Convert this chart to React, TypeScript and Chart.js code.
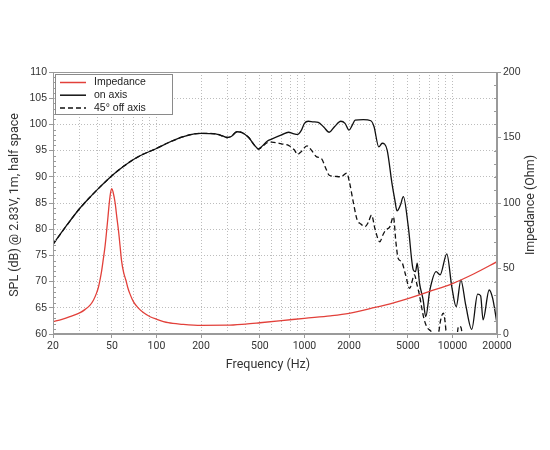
import React, { useEffect, useRef } from 'react';
import { Chart, registerables } from 'chart.js';

Chart.register(...registerables);

// ---------- data ----------
const impedanceFreq = [20, 23, 26, 30.5, 33, 35.6, 37.5, 39.3, 40.5, 41.5, 42.6, 43.6, 45, 46.1, 47.1, 48, 49, 50, 51, 52.6, 54, 55.4, 56.8, 58.1, 60, 62.2, 64, 66, 70, 75.8, 82, 90.6, 100, 120, 150, 200, 300, 400, 500, 700, 1000, 1500, 2000, 3000, 4000, 5000, 7000, 10000, 14000, 20000];
const impedanceOhm = [9.4, 11.2, 13.2, 16.3, 18.8, 22, 25.8, 31, 35.5, 41, 48, 56, 67.5, 79, 90, 100, 108, 111, 108, 100, 89, 79, 67, 56, 47, 41, 35.5, 31, 24.5, 19.6, 16.2, 13.2, 11.3, 8.6, 7.4, 6.6, 6.7, 7.6, 8.6, 10.2, 12, 13.9, 15.8, 20.3, 23.8, 27, 32.5, 38.5, 46, 55.2];

const onAxisFreq = [20, 25, 30, 35, 40, 50, 60, 70, 80, 100, 120, 150, 180, 200, 250, 280, 300, 320, 350, 380, 420, 460, 490, 520, 560, 600, 700, 780, 850, 900, 950, 1000, 1060, 1150, 1240, 1350, 1470, 1600, 1760, 1880, 2000, 2100, 2200, 2500, 2810, 2950, 3180, 3350, 3620, 3900, 4080, 4220, 4450, 4660, 5030, 5440, 5630, 5780, 5990, 6340, 6600, 7040, 7760, 8250, 9160, 9900, 10600, 11400, 12300, 13500, 14800, 15500, 16100, 17700, 18700, 20000];
const onAxisDb = [77.1, 80.9, 83.8, 85.9, 87.6, 90.2, 92.0, 93.3, 94.2, 95.4, 96.5, 97.6, 98.2, 98.3, 98.2, 97.8, 97.5, 97.7, 98.6, 98.4, 97.5, 96.0, 95.3, 95.9, 96.8, 97.2, 98.0, 98.5, 98.2, 98.1, 98.8, 100.2, 100.6, 100.5, 100.4, 99.5, 98.5, 99.6, 100.6, 100.2, 98.9, 99.8, 100.8, 100.9, 100.7, 99.6, 95.7, 96.4, 95.1, 88.8, 85.6, 83.5, 84.6, 86.2, 80.5, 72.2, 71.9, 73.5, 69.7, 66.5, 63.3, 68.4, 71.9, 71.3, 75.3, 69.0, 65.2, 70.3, 65.5, 60.9, 67.6, 67.3, 62.7, 68.4, 66.8, 62.0];

const offAxisFreq = [20, 25, 30, 35, 40, 50, 60, 70, 80, 100, 120, 150, 180, 200, 250, 280, 300, 320, 350, 380, 420, 460, 490, 520, 560, 600, 700, 780, 850, 900, 950, 1040, 1120, 1210, 1300, 1400, 1470, 1600, 1760, 1930, 2020, 2130, 2270, 2400, 2570, 2700, 2840, 3000, 3230, 3400, 3540, 3780, 3990, 4150, 4300, 4540, 4800, 5140, 5540, 5750, 5990, 6370, 6700, 7320, 7700, 8000, 8300, 8680, 8900, 9160, 9600, 10500, 11000, 11400, 11700, 12300];
const offAxisDb = [77.1, 80.9, 83.8, 85.9, 87.6, 90.2, 92.0, 93.3, 94.2, 95.4, 96.5, 97.6, 98.2, 98.3, 98.2, 97.8, 97.5, 97.7, 98.6, 98.4, 97.5, 96.0, 95.3, 95.8, 96.5, 96.6, 96.3, 96.0, 95.2, 94.3, 94.8, 95.9, 95.0, 93.8, 93.5, 91.5, 90.3, 90.1, 90.0, 90.7, 88.8, 85.4, 81.8, 81.0, 80.5, 81.3, 82.7, 80.0, 77.6, 79.0, 79.8, 80.5, 82.4, 77.5, 74.4, 73.8, 71.5, 68.7, 71.3, 69.5, 67.4, 63.3, 61.4, 60.1, 58.0, 59.5, 62.5, 64.0, 62.5, 59.0, 56.0, 57.0, 61.5, 61.3, 59.5, 56.0];

const gridFreqs = [20, 30, 40, 50, 60, 70, 80, 90, 100, 200, 300, 400, 500, 600, 700, 800, 900, 1000, 2000, 3000, 4000, 5000, 6000, 7000, 8000, 9000, 10000, 20000];
const freqLabels = [20, 50, 100, 200, 500, 1000, 2000, 5000, 10000, 20000];
const splRange = [60, 110];
const impRange = [0, 200];

const seriesLabels = ['Impedance', 'on axis', '45° off axis'];
const xTitle = 'Frequency (Hz)';
const yTitle = 'SPL (dB) @ 2.83V, 1m, half space';
const y2Title = 'Impedance (Ohm)';

const RED = '#e2403a';
const TEXT = '#333333';
const AXIS = '#9a9a9a';

const toPoints = (xs: number[], ys: number[]) => xs.map((x, i) => ({ x, y: ys[i] }));

const decorPlugin = {
  id: 'decor',
  afterDatasetsDraw(chart: any) {
    const { ctx, chartArea } = chart;
    const { left, right, top, bottom } = chartArea;
    const yS = chart.scales.y;
    const y2S = chart.scales.y2;
    ctx.save();
    // frame
    ctx.strokeStyle = AXIS;
    ctx.lineWidth = 1;
    ctx.setLineDash([]);
    ctx.strokeRect(Math.round(left) + 0.5, Math.round(top) + 0.5, Math.round(right - left) - 1, Math.round(bottom - top) - 1);
    // minor ticks
    ctx.beginPath();
    for (let v = splRange[0]; v <= splRange[1]; v += 1) {
      if (v % 5 === 0) continue;
      const py = Math.round(yS.getPixelForValue(v)) + 0.5;
      ctx.moveTo(left, py);
      ctx.lineTo(left + 3, py);
    }
    for (let v = impRange[0]; v <= impRange[1]; v += 10) {
      if (v % 50 === 0) continue;
      const py = Math.round(y2S.getPixelForValue(v)) + 0.5;
      ctx.moveTo(right - 3, py);
      ctx.lineTo(right, py);
    }
    ctx.stroke();

    // legend
    const x0 = left + 2;
    const y0 = top + 2;
    const w = 117;
    const h = 40;
    ctx.fillStyle = '#ffffff';
    ctx.fillRect(x0, y0, w, h);
    ctx.strokeStyle = '#8a8a8a';
    ctx.lineWidth = 1;
    ctx.strokeRect(Math.round(x0) + 0.5, Math.round(y0) + 0.5, w, h);
    chart.data.datasets.forEach((ds: any, i: number) => {
      const yy = y0 + 8.5 + i * 12.7;
      ctx.strokeStyle = ds.borderColor;
      ctx.lineWidth = 1.5;
      ctx.setLineDash(ds.borderDash || []);
      ctx.beginPath();
      ctx.moveTo(x0 + 5, yy);
      ctx.lineTo(x0 + 31, yy);
      ctx.stroke();
      ctx.setLineDash([]);
      ctx.fillStyle = '#222';
      ctx.font = '10.5px "Liberation Sans", Arial, sans-serif';
      ctx.textBaseline = 'middle';
      ctx.textAlign = 'left';
      ctx.fillText(ds.label, x0 + 39, yy);
    });

    // axis titles
    ctx.fillStyle = TEXT;
    ctx.font = '12.5px Roboto, sans-serif';
    ctx.textAlign = 'center';
    ctx.textBaseline = 'middle';
    ctx.fillText(xTitle, 268, 365);
    ctx.save();
    ctx.translate(15, 205);
    ctx.rotate(-Math.PI / 2);
    ctx.fillText(yTitle, 0, 0);
    ctx.restore();
    ctx.save();
    ctx.translate(531, 205);
    ctx.rotate(-Math.PI / 2);
    ctx.fillText(y2Title, 0, 0);
    ctx.restore();
    ctx.restore();
  },
};

export default function App() {
  const canvasRef = useRef<HTMLCanvasElement | null>(null);

  useEffect(() => {
    const canvas = canvasRef.current;
    if (!canvas) return;
    const chart = new Chart(canvas, {
      type: 'line',
      data: {
        datasets: [
          {
            label: seriesLabels[0],
            data: toPoints(impedanceFreq, impedanceOhm),
            yAxisID: 'y2',
            borderColor: RED,
            borderWidth: 1.3,
            pointRadius: 0,
            cubicInterpolationMode: 'monotone',
            fill: false,
          },
          {
            label: seriesLabels[1],
            data: toPoints(onAxisFreq, onAxisDb),
            yAxisID: 'y',
            borderColor: '#111111',
            borderWidth: 1.3,
            pointRadius: 0,
            cubicInterpolationMode: 'monotone',
            fill: false,
          },
          {
            label: seriesLabels[2],
            data: toPoints(offAxisFreq, offAxisDb),
            yAxisID: 'y',
            borderColor: '#111111',
            borderWidth: 1.3,
            borderDash: [5, 3],
            pointRadius: 0,
            cubicInterpolationMode: 'monotone',
            fill: false,
          },
        ],
      },
      options: {
        responsive: false,
        animation: false,
        events: [],
        layout: { padding: { top: 72, left: 0, right: 0, bottom: 0 } },
        plugins: { legend: { display: false }, tooltip: { enabled: false }, title: { display: false } },
        scales: {
          x: {
            type: 'logarithmic',
            min: 20,
            max: 20000,
            afterBuildTicks: (scale: any) => {
              scale.ticks = gridFreqs.map((v) => ({ value: v }));
            },
            afterFit: (scale: any) => {
              scale.height = 116;
            },
            ticks: {
              autoSkip: false,
              maxRotation: 0,
              minRotation: 0,
              padding: 2,
              color: TEXT,
              font: { family: 'Roboto, sans-serif', size: 10.5 },
              callback: (value: any) => (freqLabels.includes(Number(value)) ? String(value) : ''),
            },
            grid: {
              color: '#bdbdbd',
              lineWidth: 1,
              tickLength: 4,
              tickColor: (ctx: any) => (ctx.tick && freqLabels.includes(ctx.tick.value) ? AXIS : 'rgba(0,0,0,0)'),
            },
            border: { display: true, color: AXIS, dash: [1, 2] },
          },
          y: {
            type: 'linear',
            position: 'left',
            min: splRange[0],
            max: splRange[1],
            afterFit: (scale: any) => {
              scale.width = 53;
            },
            ticks: {
              stepSize: 5,
              padding: 2,
              color: TEXT,
              font: { family: '"Liberation Sans", Arial, sans-serif', size: 10.5 },
            },
            grid: { color: '#bdbdbd', lineWidth: 1, tickLength: 4, tickColor: AXIS },
            border: { display: true, color: AXIS, dash: [1, 2] },
          },
          y2: {
            type: 'linear',
            position: 'right',
            min: impRange[0],
            max: impRange[1],
            afterFit: (scale: any) => {
              scale.width = 53;
            },
            ticks: {
              stepSize: 50,
              padding: 2,
              color: TEXT,
              font: { family: '"Liberation Sans", Arial, sans-serif', size: 10.5 },
            },
            grid: { drawOnChartArea: false, tickLength: 4, tickColor: AXIS },
            border: { display: true, color: AXIS },
          },
        },
      },
      plugins: [decorPlugin],
    } as any);
    return () => chart.destroy();
  }, []);

  return (
    <div style={{ position: 'fixed', left: 0, top: 0, width: 550, height: 450, background: '#fff' }}>
      <canvas ref={canvasRef} width={550} height={450} style={{ width: 550, height: 450, display: 'block' }} />
    </div>
  );
}
